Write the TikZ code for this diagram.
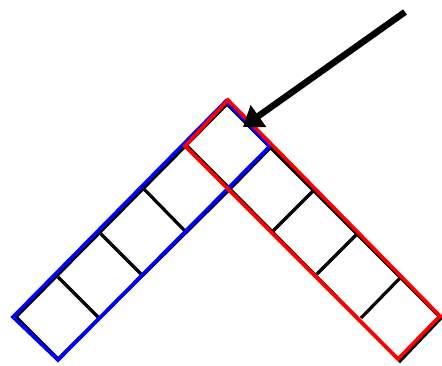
\documentclass[tikz,border=0pt]{standalone}
\usetikzlibrary{arrows.meta}
\begin{document}
\begin{tikzpicture}[x=1pt,y=-1pt,
  gridline/.style={draw=black,line width=3.2pt,line join=miter},
  bluebox/.style={draw=blue,line width=3.6pt,line join=miter},
  redbox/.style={draw=red,line width=3.6pt,line join=miter},
  pointer/.style={draw=black,line width=6.5pt,-{Triangle[length=19pt,width=26pt]}}]
\useasboundingbox (0,0) rectangle (442,365);
% black L-shaped grid of squares
\coordinate (kA) at (16,317);
\coordinate (kP) at (227,104);
\coordinate (kR) at (441,318);
\coordinate (kB) at (400,361);
\coordinate (kI) at (230,189);
\coordinate (kL) at (58,359);
\draw[gridline] (kA) -- (kP) -- (kR) -- (kB) -- (kI) -- (kL) -- cycle;
\coordinate (d1a) at (58,277);  \coordinate (d1b) at (99,318);
\coordinate (d2a) at (100,233); \coordinate (d2b) at (142,275);
\coordinate (d3a) at (144,189); \coordinate (d3b) at (185,231);
\coordinate (d4a) at (187,146); \coordinate (d4b) at (230,189);
\coordinate (e1a) at (229,190); \coordinate (e1b) at (271,147);
\coordinate (e2a) at (273,231); \coordinate (e2b) at (316,188);
\coordinate (e3a) at (317,274); \coordinate (e3b) at (359,232);
\coordinate (e4a) at (361,318); \coordinate (e4b) at (402,276);
\foreach \p in {d1,d2,d3,d4,e1,e2,e3,e4}{
  \draw[gridline] (\p a) -- (\p b);
}
% blue strip
\coordinate (bL) at (13,317);
\coordinate (bB) at (58,360);
\coordinate (bR) at (270,146);
\coordinate (bT) at (226,101);
\draw[bluebox] (bL) -- (bB) -- (bR) -- (bT) -- cycle;
% red strip
\coordinate (rT) at (228,100);
\coordinate (rR) at (440,316);
\coordinate (rB) at (398,359);
\coordinate (rL) at (185,146);
\draw[redbox] (rT) -- (rR) -- (rB) -- (rL) -- cycle;
% arrow
\coordinate (aS) at (405,12);
\coordinate (aE) at (243,127);
\draw[pointer] (aS) -- (aE);
\end{tikzpicture}
\end{document}
